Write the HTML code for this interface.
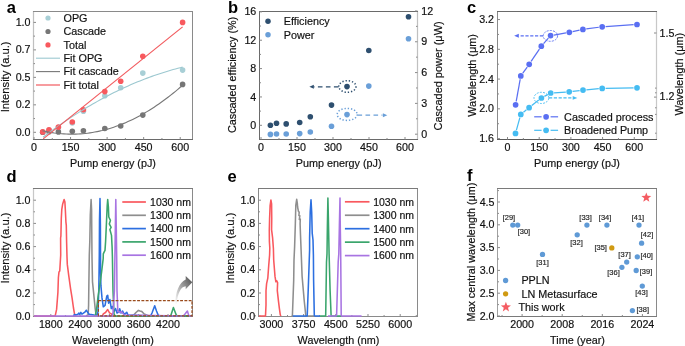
<!DOCTYPE html>
<html><head><meta charset="utf-8"><style>
html,body{margin:0;padding:0;background:#fff;width:685px;height:346px;overflow:hidden}
svg{display:block;filter:blur(0.3px)}
text{font-family:"Liberation Sans", sans-serif}
</style></head><body>
<svg width="685" height="346" viewBox="0 0 685 346">
<rect width="685" height="346" fill="#fff"/>
<line x1="33.5" y1="11" x2="33.5" y2="140" stroke="#c0c0c0" stroke-width="1.25" stroke-linecap="butt"/>
<line x1="192.5" y1="11" x2="192.5" y2="140" stroke="#8a8a8a" stroke-width="1" stroke-linecap="butt"/>
<line x1="33" y1="11.5" x2="193" y2="11.5" stroke="#8a8a8a" stroke-width="1" stroke-linecap="butt"/>
<line x1="33" y1="139.5" x2="193" y2="139.5" stroke="#6a6a6a" stroke-width="1" stroke-linecap="butt"/>
<line x1="34" y1="139.5" x2="34" y2="137" stroke="#8a8a8a" stroke-width="1" stroke-linecap="butt"/>
<line x1="70.56" y1="139.5" x2="70.56" y2="137" stroke="#8a8a8a" stroke-width="1" stroke-linecap="butt"/>
<line x1="107.11" y1="139.5" x2="107.11" y2="137" stroke="#8a8a8a" stroke-width="1" stroke-linecap="butt"/>
<line x1="143.67" y1="139.5" x2="143.67" y2="137" stroke="#8a8a8a" stroke-width="1" stroke-linecap="butt"/>
<line x1="180.22" y1="139.5" x2="180.22" y2="137" stroke="#8a8a8a" stroke-width="1" stroke-linecap="butt"/>
<line x1="52.28" y1="139.5" x2="52.28" y2="138" stroke="#8a8a8a" stroke-width="1" stroke-linecap="butt"/>
<line x1="88.83" y1="139.5" x2="88.83" y2="138" stroke="#8a8a8a" stroke-width="1" stroke-linecap="butt"/>
<line x1="125.39" y1="139.5" x2="125.39" y2="138" stroke="#8a8a8a" stroke-width="1" stroke-linecap="butt"/>
<line x1="161.94" y1="139.5" x2="161.94" y2="138" stroke="#8a8a8a" stroke-width="1" stroke-linecap="butt"/>
<line x1="33.5" y1="132.3" x2="36" y2="132.3" stroke="#8a8a8a" stroke-width="1" stroke-linecap="butt"/>
<line x1="33.5" y1="104.83" x2="36" y2="104.83" stroke="#8a8a8a" stroke-width="1" stroke-linecap="butt"/>
<line x1="33.5" y1="77.35" x2="36" y2="77.35" stroke="#8a8a8a" stroke-width="1" stroke-linecap="butt"/>
<line x1="33.5" y1="49.88" x2="36" y2="49.88" stroke="#8a8a8a" stroke-width="1" stroke-linecap="butt"/>
<line x1="33.5" y1="22.4" x2="36" y2="22.4" stroke="#8a8a8a" stroke-width="1" stroke-linecap="butt"/>
<line x1="33.5" y1="118.56" x2="35" y2="118.56" stroke="#8a8a8a" stroke-width="1" stroke-linecap="butt"/>
<line x1="33.5" y1="91.09" x2="35" y2="91.09" stroke="#8a8a8a" stroke-width="1" stroke-linecap="butt"/>
<line x1="33.5" y1="63.61" x2="35" y2="63.61" stroke="#8a8a8a" stroke-width="1" stroke-linecap="butt"/>
<line x1="33.5" y1="36.14" x2="35" y2="36.14" stroke="#8a8a8a" stroke-width="1" stroke-linecap="butt"/>
<text x="34" y="151" font-size="10.7" text-anchor="middle" fill="#111111" font-weight="normal" stroke="#111111" stroke-width="0.18">0</text>
<text x="70.56" y="151" font-size="10.7" text-anchor="middle" fill="#111111" font-weight="normal" stroke="#111111" stroke-width="0.18">150</text>
<text x="107.11" y="151" font-size="10.7" text-anchor="middle" fill="#111111" font-weight="normal" stroke="#111111" stroke-width="0.18">300</text>
<text x="143.67" y="151" font-size="10.7" text-anchor="middle" fill="#111111" font-weight="normal" stroke="#111111" stroke-width="0.18">450</text>
<text x="180.22" y="151" font-size="10.7" text-anchor="middle" fill="#111111" font-weight="normal" stroke="#111111" stroke-width="0.18">600</text>
<text x="30.5" y="135.9" font-size="10.7" text-anchor="end" fill="#111111" font-weight="normal" stroke="#111111" stroke-width="0.18">0.0</text>
<text x="30.5" y="108.43" font-size="10.7" text-anchor="end" fill="#111111" font-weight="normal" stroke="#111111" stroke-width="0.18">0.2</text>
<text x="30.5" y="80.95" font-size="10.7" text-anchor="end" fill="#111111" font-weight="normal" stroke="#111111" stroke-width="0.18">0.5</text>
<text x="30.5" y="53.48" font-size="10.7" text-anchor="end" fill="#111111" font-weight="normal" stroke="#111111" stroke-width="0.18">0.7</text>
<text x="30.5" y="26" font-size="10.7" text-anchor="end" fill="#111111" font-weight="normal" stroke="#111111" stroke-width="0.18">1.0</text>
<text x="113" y="167" font-size="10.8" text-anchor="middle" fill="#111111" font-weight="normal" stroke="#111111" stroke-width="0.18">Pump energy (pJ)</text>
<text x="9" y="76.9" font-size="11.2" text-anchor="middle" fill="#111111" font-weight="normal" stroke="#111111" stroke-width="0.18" transform="rotate(-90 9 76.9)">Intensity (a.u.)</text>
<text x="6.7" y="12.5" font-size="16.5" text-anchor="start" fill="#000" font-weight="bold">a</text>
<circle cx="42.7" cy="132.3" r="2.8" fill="#a8cfd6"/>
<circle cx="49" cy="130.3" r="2.8" fill="#a8cfd6"/>
<circle cx="58.4" cy="127.6" r="2.8" fill="#a8cfd6"/>
<circle cx="72.3" cy="123" r="2.8" fill="#a8cfd6"/>
<circle cx="83.4" cy="111.3" r="2.8" fill="#a8cfd6"/>
<circle cx="104.8" cy="95.8" r="2.8" fill="#a8cfd6"/>
<circle cx="120.7" cy="87.7" r="2.8" fill="#a8cfd6"/>
<circle cx="142.8" cy="73.1" r="2.8" fill="#a8cfd6"/>
<circle cx="182.6" cy="70.1" r="2.8" fill="#a8cfd6"/>
<circle cx="42.7" cy="132.3" r="2.8" fill="#767676"/>
<circle cx="49" cy="131.8" r="2.8" fill="#767676"/>
<circle cx="58.4" cy="131.9" r="2.8" fill="#767676"/>
<circle cx="72.3" cy="131.2" r="2.8" fill="#767676"/>
<circle cx="83.4" cy="130.8" r="2.8" fill="#767676"/>
<circle cx="104.8" cy="128.5" r="2.8" fill="#767676"/>
<circle cx="120.7" cy="126" r="2.8" fill="#767676"/>
<circle cx="142.8" cy="115.1" r="2.8" fill="#767676"/>
<circle cx="182.6" cy="84.4" r="2.8" fill="#767676"/>
<circle cx="42.7" cy="131.9" r="2.8" fill="#f8595e"/>
<circle cx="49" cy="129.8" r="2.8" fill="#f8595e"/>
<circle cx="58.4" cy="127.1" r="2.8" fill="#f8595e"/>
<circle cx="72.3" cy="122" r="2.8" fill="#f8595e"/>
<circle cx="83.4" cy="109.7" r="2.8" fill="#f8595e"/>
<circle cx="104.8" cy="91.6" r="2.8" fill="#f8595e"/>
<circle cx="120.7" cy="81.3" r="2.8" fill="#f8595e"/>
<circle cx="142.8" cy="56.2" r="2.8" fill="#f8595e"/>
<circle cx="182.6" cy="22.4" r="2.8" fill="#f8595e"/>
<polyline points="43,137.24 45.37,135.46 47.73,133.69 50.1,131.94 52.46,130.22 54.83,128.51 57.2,126.83 59.56,125.17 61.93,123.52 64.29,121.9 66.66,120.3 69.03,118.72 71.39,117.16 73.76,115.62 76.13,114.1 78.49,112.6 80.86,111.13 83.22,109.67 85.59,108.23 87.96,106.82 90.32,105.42 92.69,104.05 95.05,102.69 97.42,101.36 99.79,100.05 102.15,98.75 104.52,97.48 106.88,96.23 109.25,95 111.62,93.79 113.98,92.6 116.35,91.44 118.72,90.29 121.08,89.16 123.45,88.06 125.81,86.97 128.18,85.91 130.55,84.86 132.91,83.84 135.28,82.83 137.64,81.85 140.01,80.89 142.38,79.95 144.74,79.03 147.11,78.13 149.47,77.25 151.84,76.39 154.21,75.55 156.57,74.74 158.94,73.94 161.31,73.16 163.67,72.41 166.04,71.67 168.4,70.96 170.77,70.26 173.14,69.59 175.5,68.94 177.87,68.31 180.23,67.7 182.6,67.11" fill="none" stroke="#9cc8d0" stroke-width="1.1" stroke-linejoin="round"/>
<polyline points="42.5,130.74 44.87,131.27 47.25,131.76 49.62,132.2 52,132.6 54.37,132.96 56.75,133.26 59.12,133.53 61.5,133.75 63.87,133.92 66.25,134.05 68.62,134.13 70.99,134.17 73.37,134.16 75.74,134.11 78.12,134.02 80.49,133.87 82.87,133.69 85.24,133.46 87.62,133.18 89.99,132.86 92.37,132.49 94.74,132.08 97.12,131.62 99.49,131.12 101.86,130.58 104.24,129.98 106.61,129.35 108.99,128.67 111.36,127.94 113.74,127.17 116.11,126.35 118.49,125.49 120.86,124.58 123.24,123.63 125.61,122.64 127.98,121.59 130.36,120.51 132.73,119.38 135.11,118.2 137.48,116.98 139.86,115.71 142.23,114.4 144.61,113.04 146.98,111.64 149.36,110.19 151.73,108.7 154.11,107.17 156.48,105.58 158.85,103.96 161.23,102.29 163.6,100.57 165.98,98.81 168.35,97 170.73,95.15 173.1,93.25 175.48,91.31 177.85,89.32 180.23,87.29 182.6,85.21" fill="none" stroke="#777777" stroke-width="1.1" stroke-linejoin="round"/>
<line x1="43.2" y1="138.9" x2="182.6" y2="26.9" stroke="#f25a5e" stroke-width="1.2" stroke-linecap="butt"/>
<circle cx="48" cy="18" r="2.6" fill="#a8cfd6"/>
<text x="63.5" y="21.8" font-size="10.8" text-anchor="start" fill="#111111" font-weight="normal" stroke="#111111" stroke-width="0.18">OPG</text>
<circle cx="48" cy="31.5" r="2.6" fill="#767676"/>
<text x="63.5" y="35.2" font-size="10.8" text-anchor="start" fill="#111111" font-weight="normal" stroke="#111111" stroke-width="0.18">Cascade</text>
<circle cx="48" cy="44.9" r="2.6" fill="#f8595e"/>
<text x="63.5" y="48.6" font-size="10.8" text-anchor="start" fill="#111111" font-weight="normal" stroke="#111111" stroke-width="0.18">Total</text>
<line x1="36" y1="58.2" x2="60" y2="58.2" stroke="#9cc8d0" stroke-width="1.1" stroke-linecap="butt"/>
<text x="63.5" y="61.9" font-size="10.8" text-anchor="start" fill="#111111" font-weight="normal" stroke="#111111" stroke-width="0.18">Fit OPG</text>
<line x1="36" y1="71.6" x2="60" y2="71.6" stroke="#777777" stroke-width="1.1" stroke-linecap="butt"/>
<text x="63.5" y="75.3" font-size="10.8" text-anchor="start" fill="#111111" font-weight="normal" stroke="#111111" stroke-width="0.18">Fit cascade</text>
<line x1="36" y1="85" x2="60" y2="85" stroke="#f25a5e" stroke-width="1.2" stroke-linecap="butt"/>
<text x="63.5" y="88.7" font-size="10.8" text-anchor="start" fill="#111111" font-weight="normal" stroke="#111111" stroke-width="0.18">Fit total</text>
<line x1="259.5" y1="11" x2="259.5" y2="140" stroke="#6a6a6a" stroke-width="1" stroke-linecap="butt"/>
<line x1="417.5" y1="11" x2="417.5" y2="140" stroke="#c0c0c0" stroke-width="1.25" stroke-linecap="butt"/>
<line x1="259" y1="11.5" x2="418" y2="11.5" stroke="#6a6a6a" stroke-width="1" stroke-linecap="butt"/>
<line x1="259" y1="139.5" x2="418" y2="139.5" stroke="#6a6a6a" stroke-width="1" stroke-linecap="butt"/>
<line x1="261" y1="139.5" x2="261" y2="137" stroke="#8a8a8a" stroke-width="1" stroke-linecap="butt"/>
<line x1="297" y1="139.5" x2="297" y2="137" stroke="#8a8a8a" stroke-width="1" stroke-linecap="butt"/>
<line x1="333" y1="139.5" x2="333" y2="137" stroke="#8a8a8a" stroke-width="1" stroke-linecap="butt"/>
<line x1="369" y1="139.5" x2="369" y2="137" stroke="#8a8a8a" stroke-width="1" stroke-linecap="butt"/>
<line x1="405" y1="139.5" x2="405" y2="137" stroke="#8a8a8a" stroke-width="1" stroke-linecap="butt"/>
<line x1="279" y1="139.5" x2="279" y2="138" stroke="#8a8a8a" stroke-width="1" stroke-linecap="butt"/>
<line x1="315" y1="139.5" x2="315" y2="138" stroke="#8a8a8a" stroke-width="1" stroke-linecap="butt"/>
<line x1="351" y1="139.5" x2="351" y2="138" stroke="#8a8a8a" stroke-width="1" stroke-linecap="butt"/>
<line x1="387" y1="139.5" x2="387" y2="138" stroke="#8a8a8a" stroke-width="1" stroke-linecap="butt"/>
<line x1="259.5" y1="125.3" x2="262" y2="125.3" stroke="#8a8a8a" stroke-width="1" stroke-linecap="butt"/>
<line x1="259.5" y1="96.94" x2="262" y2="96.94" stroke="#8a8a8a" stroke-width="1" stroke-linecap="butt"/>
<line x1="259.5" y1="68.58" x2="262" y2="68.58" stroke="#8a8a8a" stroke-width="1" stroke-linecap="butt"/>
<line x1="259.5" y1="40.22" x2="262" y2="40.22" stroke="#8a8a8a" stroke-width="1" stroke-linecap="butt"/>
<line x1="259.5" y1="11.86" x2="262" y2="11.86" stroke="#8a8a8a" stroke-width="1" stroke-linecap="butt"/>
<line x1="259.5" y1="111.12" x2="261" y2="111.12" stroke="#8a8a8a" stroke-width="1" stroke-linecap="butt"/>
<line x1="259.5" y1="82.76" x2="261" y2="82.76" stroke="#8a8a8a" stroke-width="1" stroke-linecap="butt"/>
<line x1="259.5" y1="54.4" x2="261" y2="54.4" stroke="#8a8a8a" stroke-width="1" stroke-linecap="butt"/>
<line x1="259.5" y1="26.04" x2="261" y2="26.04" stroke="#8a8a8a" stroke-width="1" stroke-linecap="butt"/>
<line x1="417.5" y1="134.2" x2="415" y2="134.2" stroke="#8a8a8a" stroke-width="1" stroke-linecap="butt"/>
<line x1="417.5" y1="103.39" x2="415" y2="103.39" stroke="#8a8a8a" stroke-width="1" stroke-linecap="butt"/>
<line x1="417.5" y1="72.58" x2="415" y2="72.58" stroke="#8a8a8a" stroke-width="1" stroke-linecap="butt"/>
<line x1="417.5" y1="41.77" x2="415" y2="41.77" stroke="#8a8a8a" stroke-width="1" stroke-linecap="butt"/>
<line x1="417.5" y1="10.96" x2="415" y2="10.96" stroke="#8a8a8a" stroke-width="1" stroke-linecap="butt"/>
<line x1="417.5" y1="118.79" x2="416" y2="118.79" stroke="#8a8a8a" stroke-width="1" stroke-linecap="butt"/>
<line x1="417.5" y1="87.98" x2="416" y2="87.98" stroke="#8a8a8a" stroke-width="1" stroke-linecap="butt"/>
<line x1="417.5" y1="57.17" x2="416" y2="57.17" stroke="#8a8a8a" stroke-width="1" stroke-linecap="butt"/>
<line x1="417.5" y1="26.36" x2="416" y2="26.36" stroke="#8a8a8a" stroke-width="1" stroke-linecap="butt"/>
<text x="261" y="151" font-size="10.7" text-anchor="middle" fill="#111111" font-weight="normal" stroke="#111111" stroke-width="0.18">0</text>
<text x="297" y="151" font-size="10.7" text-anchor="middle" fill="#111111" font-weight="normal" stroke="#111111" stroke-width="0.18">150</text>
<text x="333" y="151" font-size="10.7" text-anchor="middle" fill="#111111" font-weight="normal" stroke="#111111" stroke-width="0.18">300</text>
<text x="369" y="151" font-size="10.7" text-anchor="middle" fill="#111111" font-weight="normal" stroke="#111111" stroke-width="0.18">450</text>
<text x="405" y="151" font-size="10.7" text-anchor="middle" fill="#111111" font-weight="normal" stroke="#111111" stroke-width="0.18">600</text>
<text x="256.3" y="128.9" font-size="10.7" text-anchor="end" fill="#111111" font-weight="normal" stroke="#111111" stroke-width="0.18">0</text>
<text x="256.3" y="100.54" font-size="10.7" text-anchor="end" fill="#111111" font-weight="normal" stroke="#111111" stroke-width="0.18">4</text>
<text x="256.3" y="72.18" font-size="10.7" text-anchor="end" fill="#111111" font-weight="normal" stroke="#111111" stroke-width="0.18">8</text>
<text x="256.3" y="43.82" font-size="10.7" text-anchor="end" fill="#111111" font-weight="normal" stroke="#111111" stroke-width="0.18">12</text>
<text x="256.3" y="15.46" font-size="10.7" text-anchor="end" fill="#111111" font-weight="normal" stroke="#111111" stroke-width="0.18">16</text>
<text x="421.2" y="137.8" font-size="10.7" text-anchor="start" fill="#111111" font-weight="normal" stroke="#111111" stroke-width="0.18">0</text>
<text x="421.2" y="106.99" font-size="10.7" text-anchor="start" fill="#111111" font-weight="normal" stroke="#111111" stroke-width="0.18">3</text>
<text x="421.2" y="76.18" font-size="10.7" text-anchor="start" fill="#111111" font-weight="normal" stroke="#111111" stroke-width="0.18">6</text>
<text x="421.2" y="45.37" font-size="10.7" text-anchor="start" fill="#111111" font-weight="normal" stroke="#111111" stroke-width="0.18">9</text>
<text x="421.2" y="14.56" font-size="10.7" text-anchor="start" fill="#111111" font-weight="normal" stroke="#111111" stroke-width="0.18">12</text>
<text x="338.7" y="167" font-size="10.8" text-anchor="middle" fill="#111111" font-weight="normal" stroke="#111111" stroke-width="0.18">Pump energy (pJ)</text>
<text x="235.8" y="74.9" font-size="10.8" text-anchor="middle" fill="#111111" font-weight="normal" stroke="#111111" stroke-width="0.18" transform="rotate(-90 235.8 74.9)">Cascaded efficiency (%)</text>
<text x="442.5" y="75.9" font-size="10.95" text-anchor="middle" fill="#111111" font-weight="normal" stroke="#111111" stroke-width="0.18" transform="rotate(-90 442.5 75.9)">Cascaded power (μW)</text>
<text x="227.9" y="12.6" font-size="16.5" text-anchor="start" fill="#000" font-weight="bold">b</text>
<circle cx="270.4" cy="125.3" r="2.8" fill="#2e4f6f"/>
<circle cx="276.5" cy="123.3" r="2.8" fill="#2e4f6f"/>
<circle cx="286.2" cy="123.9" r="2.8" fill="#2e4f6f"/>
<circle cx="299.7" cy="122.5" r="2.8" fill="#2e4f6f"/>
<circle cx="310.3" cy="116.8" r="2.8" fill="#2e4f6f"/>
<circle cx="331.5" cy="105.1" r="2.8" fill="#2e4f6f"/>
<circle cx="347" cy="86.6" r="2.8" fill="#2e4f6f"/>
<circle cx="368.8" cy="50.5" r="2.8" fill="#2e4f6f"/>
<circle cx="408.5" cy="16.7" r="2.8" fill="#2e4f6f"/>
<circle cx="270.4" cy="134.4" r="2.8" fill="#6a9fd8"/>
<circle cx="276.5" cy="134" r="2.8" fill="#6a9fd8"/>
<circle cx="286.2" cy="134" r="2.8" fill="#6a9fd8"/>
<circle cx="299.7" cy="133.6" r="2.8" fill="#6a9fd8"/>
<circle cx="310.3" cy="132" r="2.8" fill="#6a9fd8"/>
<circle cx="331.5" cy="126.2" r="2.8" fill="#6a9fd8"/>
<circle cx="347" cy="114.6" r="2.8" fill="#6a9fd8"/>
<circle cx="368.8" cy="86.1" r="2.8" fill="#6a9fd8"/>
<circle cx="408.5" cy="38.7" r="2.8" fill="#6a9fd8"/>
<circle cx="268" cy="21.2" r="2.75" fill="#2e4f6f"/>
<text x="283.7" y="25" font-size="10.8" text-anchor="start" fill="#111111" font-weight="normal" stroke="#111111" stroke-width="0.18">Efficiency</text>
<circle cx="268" cy="34.7" r="2.75" fill="#6a9fd8"/>
<text x="283.7" y="38.5" font-size="10.8" text-anchor="start" fill="#111111" font-weight="normal" stroke="#111111" stroke-width="0.18">Power</text>
<ellipse cx="347.4" cy="86.5" rx="8.6" ry="5.8" fill="none" stroke="#2e4f6f" stroke-width="1.5" stroke-dasharray="1.3 1.9"/>
<line x1="338.5" y1="86.8" x2="313.5" y2="86.8" stroke="#2e4f6f" stroke-width="1.3" stroke-linecap="butt" stroke-dasharray="4.6 3.4"/>
<polygon points="309.4,86.8 313.8,84.8 313.8,88.8" fill="#2e4f6f"/>
<ellipse cx="347.2" cy="114.4" rx="10" ry="6" fill="none" stroke="#6a9fd8" stroke-width="1.5" stroke-dasharray="1.3 1.9"/>
<line x1="357.5" y1="115.2" x2="382.5" y2="115.2" stroke="#6a9fd8" stroke-width="1.3" stroke-linecap="butt" stroke-dasharray="4.6 3.4"/>
<polygon points="387.3,115.2 382.9,113.2 382.9,117.2" fill="#6a9fd8"/>
<line x1="497.5" y1="11" x2="497.5" y2="140" stroke="#8a8a8a" stroke-width="1" stroke-linecap="butt"/>
<line x1="656.5" y1="11" x2="656.5" y2="140" stroke="#c8c8c8" stroke-width="1.25" stroke-linecap="butt"/>
<line x1="497" y1="11.5" x2="657" y2="11.5" stroke="#6a6a6a" stroke-width="1" stroke-linecap="butt"/>
<line x1="497" y1="139.5" x2="657" y2="139.5" stroke="#5a5a5a" stroke-width="1" stroke-linecap="butt"/>
<line x1="507.5" y1="139.5" x2="507.5" y2="137" stroke="#8a8a8a" stroke-width="1" stroke-linecap="butt"/>
<line x1="539.2" y1="139.5" x2="539.2" y2="137" stroke="#8a8a8a" stroke-width="1" stroke-linecap="butt"/>
<line x1="570.89" y1="139.5" x2="570.89" y2="137" stroke="#8a8a8a" stroke-width="1" stroke-linecap="butt"/>
<line x1="602.59" y1="139.5" x2="602.59" y2="137" stroke="#8a8a8a" stroke-width="1" stroke-linecap="butt"/>
<line x1="634.28" y1="139.5" x2="634.28" y2="137" stroke="#8a8a8a" stroke-width="1" stroke-linecap="butt"/>
<line x1="523.35" y1="139.5" x2="523.35" y2="138" stroke="#8a8a8a" stroke-width="1" stroke-linecap="butt"/>
<line x1="555.04" y1="139.5" x2="555.04" y2="138" stroke="#8a8a8a" stroke-width="1" stroke-linecap="butt"/>
<line x1="586.74" y1="139.5" x2="586.74" y2="138" stroke="#8a8a8a" stroke-width="1" stroke-linecap="butt"/>
<line x1="618.43" y1="139.5" x2="618.43" y2="138" stroke="#8a8a8a" stroke-width="1" stroke-linecap="butt"/>
<line x1="497.5" y1="138.6" x2="500" y2="138.6" stroke="#8a8a8a" stroke-width="1" stroke-linecap="butt"/>
<line x1="497.5" y1="108.84" x2="500" y2="108.84" stroke="#8a8a8a" stroke-width="1" stroke-linecap="butt"/>
<line x1="497.5" y1="79.08" x2="500" y2="79.08" stroke="#8a8a8a" stroke-width="1" stroke-linecap="butt"/>
<line x1="497.5" y1="49.32" x2="500" y2="49.32" stroke="#8a8a8a" stroke-width="1" stroke-linecap="butt"/>
<line x1="497.5" y1="19.56" x2="500" y2="19.56" stroke="#8a8a8a" stroke-width="1" stroke-linecap="butt"/>
<line x1="497.5" y1="123.72" x2="499" y2="123.72" stroke="#8a8a8a" stroke-width="1" stroke-linecap="butt"/>
<line x1="497.5" y1="93.96" x2="499" y2="93.96" stroke="#8a8a8a" stroke-width="1" stroke-linecap="butt"/>
<line x1="497.5" y1="64.2" x2="499" y2="64.2" stroke="#8a8a8a" stroke-width="1" stroke-linecap="butt"/>
<line x1="497.5" y1="34.44" x2="499" y2="34.44" stroke="#8a8a8a" stroke-width="1" stroke-linecap="butt"/>
<line x1="656.5" y1="33" x2="654" y2="33" stroke="#8a8a8a" stroke-width="1" stroke-linecap="butt"/>
<line x1="656.5" y1="97.1" x2="654" y2="97.1" stroke="#8a8a8a" stroke-width="1" stroke-linecap="butt"/>
<line x1="656.5" y1="88.1" x2="655" y2="88.1" stroke="#8a8a8a" stroke-width="1" stroke-linecap="butt"/>
<line x1="656.5" y1="92.8" x2="655" y2="92.8" stroke="#8a8a8a" stroke-width="1" stroke-linecap="butt"/>
<line x1="656.5" y1="107.8" x2="655" y2="107.8" stroke="#8a8a8a" stroke-width="1" stroke-linecap="butt"/>
<line x1="656.5" y1="114.4" x2="655" y2="114.4" stroke="#8a8a8a" stroke-width="1" stroke-linecap="butt"/>
<line x1="656.5" y1="133.2" x2="655" y2="133.2" stroke="#8a8a8a" stroke-width="1" stroke-linecap="butt"/>
<text x="507.5" y="151" font-size="10.7" text-anchor="middle" fill="#111111" font-weight="normal" stroke="#111111" stroke-width="0.18">0</text>
<text x="539.2" y="151" font-size="10.7" text-anchor="middle" fill="#111111" font-weight="normal" stroke="#111111" stroke-width="0.18">150</text>
<text x="570.89" y="151" font-size="10.7" text-anchor="middle" fill="#111111" font-weight="normal" stroke="#111111" stroke-width="0.18">300</text>
<text x="602.59" y="151" font-size="10.7" text-anchor="middle" fill="#111111" font-weight="normal" stroke="#111111" stroke-width="0.18">450</text>
<text x="634.28" y="151" font-size="10.7" text-anchor="middle" fill="#111111" font-weight="normal" stroke="#111111" stroke-width="0.18">600</text>
<text x="494" y="142.2" font-size="10.7" text-anchor="end" fill="#111111" font-weight="normal" stroke="#111111" stroke-width="0.18">1.6</text>
<text x="494" y="112.44" font-size="10.7" text-anchor="end" fill="#111111" font-weight="normal" stroke="#111111" stroke-width="0.18">2.0</text>
<text x="494" y="82.68" font-size="10.7" text-anchor="end" fill="#111111" font-weight="normal" stroke="#111111" stroke-width="0.18">2.4</text>
<text x="494" y="52.92" font-size="10.7" text-anchor="end" fill="#111111" font-weight="normal" stroke="#111111" stroke-width="0.18">2.8</text>
<text x="494" y="23.16" font-size="10.7" text-anchor="end" fill="#111111" font-weight="normal" stroke="#111111" stroke-width="0.18">3.2</text>
<text x="659.5" y="100.4" font-size="10.7" text-anchor="start" fill="#111111" font-weight="normal" stroke="#111111" stroke-width="0.18">1.2</text>
<text x="659.5" y="36.8" font-size="10.7" text-anchor="start" fill="#111111" font-weight="normal" stroke="#111111" stroke-width="0.18">1.5</text>
<text x="577" y="167" font-size="10.8" text-anchor="middle" fill="#111111" font-weight="normal" stroke="#111111" stroke-width="0.18">Pump energy (pJ)</text>
<text x="476" y="75.4" font-size="10.9" text-anchor="middle" fill="#111111" font-weight="normal" stroke="#111111" stroke-width="0.18" transform="rotate(-90 476 75.4)">Wavelength (μm)</text>
<text x="683.1" y="74.2" font-size="10.9" text-anchor="middle" fill="#111111" font-weight="normal" stroke="#111111" stroke-width="0.18" transform="rotate(-90 683.1 74.2)">Wavelength (μm)</text>
<text x="466.9" y="12.5" font-size="16.5" text-anchor="start" fill="#000" font-weight="bold">c</text>
<line x1="516.2" y1="101.45" x2="520.2" y2="79.25" stroke="#5a6ff2" stroke-width="1.25" stroke-linecap="butt"/>
<line x1="522.79" y1="73.15" x2="527.21" y2="67.05" stroke="#5a6ff2" stroke-width="1.25" stroke-linecap="butt"/>
<line x1="531.09" y1="61.47" x2="539.41" y2="49.03" stroke="#5a6ff2" stroke-width="1.25" stroke-linecap="butt"/>
<line x1="543.54" y1="43.64" x2="548.36" y2="38.16" stroke="#5a6ff2" stroke-width="1.25" stroke-linecap="butt"/>
<line x1="553.95" y1="35.01" x2="565.95" y2="32.89" stroke="#5a6ff2" stroke-width="1.25" stroke-linecap="butt"/>
<line x1="572.63" y1="31.59" x2="579.57" y2="30.11" stroke="#5a6ff2" stroke-width="1.25" stroke-linecap="butt"/>
<line x1="586.27" y1="28.95" x2="598.83" y2="27.25" stroke="#5a6ff2" stroke-width="1.25" stroke-linecap="butt"/>
<line x1="605.59" y1="26.58" x2="633.61" y2="24.72" stroke="#5a6ff2" stroke-width="1.25" stroke-linecap="butt"/>
<line x1="516.41" y1="130.13" x2="519.89" y2="117.67" stroke="#45bcf2" stroke-width="1.25" stroke-linecap="butt"/>
<line x1="523.45" y1="112.26" x2="526.45" y2="109.84" stroke="#45bcf2" stroke-width="1.25" stroke-linecap="butt"/>
<line x1="531.77" y1="105.59" x2="538.73" y2="100.11" stroke="#45bcf2" stroke-width="1.25" stroke-linecap="butt"/>
<line x1="544.39" y1="96.39" x2="547.71" y2="94.61" stroke="#45bcf2" stroke-width="1.25" stroke-linecap="butt"/>
<line x1="554.09" y1="92.78" x2="565.81" y2="92.02" stroke="#45bcf2" stroke-width="1.25" stroke-linecap="butt"/>
<line x1="572.57" y1="91.38" x2="579.63" y2="90.52" stroke="#45bcf2" stroke-width="1.25" stroke-linecap="butt"/>
<line x1="586.39" y1="89.8" x2="598.81" y2="88.7" stroke="#45bcf2" stroke-width="1.25" stroke-linecap="butt"/>
<line x1="605.6" y1="88.34" x2="633.6" y2="87.86" stroke="#45bcf2" stroke-width="1.25" stroke-linecap="butt"/>
<circle cx="515.6" cy="104.8" r="2.85" fill="#5a6ff2"/>
<circle cx="520.8" cy="75.9" r="2.85" fill="#5a6ff2"/>
<circle cx="529.2" cy="64.3" r="2.85" fill="#5a6ff2"/>
<circle cx="541.3" cy="46.2" r="2.85" fill="#5a6ff2"/>
<circle cx="550.6" cy="35.6" r="2.85" fill="#5a6ff2"/>
<circle cx="569.3" cy="32.3" r="2.85" fill="#5a6ff2"/>
<circle cx="582.9" cy="29.4" r="2.85" fill="#5a6ff2"/>
<circle cx="602.2" cy="26.8" r="2.85" fill="#5a6ff2"/>
<circle cx="637" cy="24.5" r="2.85" fill="#5a6ff2"/>
<circle cx="515.5" cy="133.4" r="2.85" fill="#45bcf2"/>
<circle cx="520.8" cy="114.4" r="2.85" fill="#45bcf2"/>
<circle cx="529.1" cy="107.7" r="2.85" fill="#45bcf2"/>
<circle cx="541.4" cy="98" r="2.85" fill="#45bcf2"/>
<circle cx="550.7" cy="93" r="2.85" fill="#45bcf2"/>
<circle cx="569.2" cy="91.8" r="2.85" fill="#45bcf2"/>
<circle cx="583" cy="90.1" r="2.85" fill="#45bcf2"/>
<circle cx="602.2" cy="88.4" r="2.85" fill="#45bcf2"/>
<circle cx="637" cy="87.8" r="2.85" fill="#45bcf2"/>
<ellipse cx="550.4" cy="35.9" rx="7.2" ry="5.4" fill="none" stroke="#5a6ff2" stroke-width="0.9" stroke-dasharray="2 1.2"/>
<line x1="543" y1="35.8" x2="519" y2="35.8" stroke="#5a6ff2" stroke-width="1.3" stroke-linecap="butt" stroke-dasharray="3.2 1.6"/>
<polygon points="514.2,35.8 518.8,33.8 518.8,37.8" fill="#5a6ff2"/>
<ellipse cx="541.4" cy="97.9" rx="7.4" ry="5.6" fill="none" stroke="#45bcf2" stroke-width="0.9" stroke-dasharray="2 1.2"/>
<line x1="549" y1="97.9" x2="573" y2="97.9" stroke="#45bcf2" stroke-width="1.3" stroke-linecap="butt" stroke-dasharray="3.2 1.6"/>
<polygon points="577.3,97.9 572.7,96.1 572.7,99.7" fill="#45bcf2"/>
<line x1="534.2" y1="116.8" x2="541.6" y2="116.8" stroke="#5a6ff2" stroke-width="1.2" stroke-linecap="butt"/>
<line x1="550.6" y1="116.8" x2="558.1" y2="116.8" stroke="#5a6ff2" stroke-width="1.2" stroke-linecap="butt"/>
<circle cx="546.1" cy="116.8" r="2.85" fill="#5a6ff2"/>
<text x="564.1" y="120.5" font-size="10.8" text-anchor="start" fill="#111111" font-weight="normal" stroke="#111111" stroke-width="0.18">Cascaded process</text>
<line x1="534.2" y1="130.3" x2="541.6" y2="130.3" stroke="#45bcf2" stroke-width="1.2" stroke-linecap="butt"/>
<line x1="550.6" y1="130.3" x2="558.1" y2="130.3" stroke="#45bcf2" stroke-width="1.2" stroke-linecap="butt"/>
<circle cx="546.1" cy="130.3" r="2.85" fill="#45bcf2"/>
<text x="564.1" y="134" font-size="10.8" text-anchor="start" fill="#111111" font-weight="normal" stroke="#111111" stroke-width="0.18">Broadened Pump</text>
<line x1="33.5" y1="188" x2="33.5" y2="317" stroke="#c8c8c8" stroke-width="1.25" stroke-linecap="butt"/>
<line x1="192.5" y1="188" x2="192.5" y2="317" stroke="#8a8a8a" stroke-width="1" stroke-linecap="butt"/>
<line x1="33" y1="188.5" x2="193" y2="188.5" stroke="#7a7a7a" stroke-width="1" stroke-linecap="butt"/>
<line x1="33" y1="316.5" x2="193" y2="316.5" stroke="#8a8a8a" stroke-width="1" stroke-linecap="butt"/>
<line x1="50.8" y1="316.5" x2="50.8" y2="314" stroke="#8a8a8a" stroke-width="1" stroke-linecap="butt"/>
<line x1="80.1" y1="316.5" x2="80.1" y2="314" stroke="#8a8a8a" stroke-width="1" stroke-linecap="butt"/>
<line x1="109.4" y1="316.5" x2="109.4" y2="314" stroke="#8a8a8a" stroke-width="1" stroke-linecap="butt"/>
<line x1="138.7" y1="316.5" x2="138.7" y2="314" stroke="#8a8a8a" stroke-width="1" stroke-linecap="butt"/>
<line x1="168" y1="316.5" x2="168" y2="314" stroke="#8a8a8a" stroke-width="1" stroke-linecap="butt"/>
<line x1="36.16" y1="316.5" x2="36.16" y2="315" stroke="#8a8a8a" stroke-width="1" stroke-linecap="butt"/>
<line x1="65.45" y1="316.5" x2="65.45" y2="315" stroke="#8a8a8a" stroke-width="1" stroke-linecap="butt"/>
<line x1="94.75" y1="316.5" x2="94.75" y2="315" stroke="#8a8a8a" stroke-width="1" stroke-linecap="butt"/>
<line x1="124.05" y1="316.5" x2="124.05" y2="315" stroke="#8a8a8a" stroke-width="1" stroke-linecap="butt"/>
<line x1="153.35" y1="316.5" x2="153.35" y2="315" stroke="#8a8a8a" stroke-width="1" stroke-linecap="butt"/>
<line x1="182.65" y1="316.5" x2="182.65" y2="315" stroke="#8a8a8a" stroke-width="1" stroke-linecap="butt"/>
<line x1="33.5" y1="316.2" x2="36" y2="316.2" stroke="#8a8a8a" stroke-width="1" stroke-linecap="butt"/>
<line x1="33.5" y1="293" x2="36" y2="293" stroke="#8a8a8a" stroke-width="1" stroke-linecap="butt"/>
<line x1="33.5" y1="269.8" x2="36" y2="269.8" stroke="#8a8a8a" stroke-width="1" stroke-linecap="butt"/>
<line x1="33.5" y1="246.6" x2="36" y2="246.6" stroke="#8a8a8a" stroke-width="1" stroke-linecap="butt"/>
<line x1="33.5" y1="223.4" x2="36" y2="223.4" stroke="#8a8a8a" stroke-width="1" stroke-linecap="butt"/>
<line x1="33.5" y1="200.2" x2="36" y2="200.2" stroke="#8a8a8a" stroke-width="1" stroke-linecap="butt"/>
<line x1="33.5" y1="304.6" x2="35" y2="304.6" stroke="#8a8a8a" stroke-width="1" stroke-linecap="butt"/>
<line x1="33.5" y1="281.4" x2="35" y2="281.4" stroke="#8a8a8a" stroke-width="1" stroke-linecap="butt"/>
<line x1="33.5" y1="258.2" x2="35" y2="258.2" stroke="#8a8a8a" stroke-width="1" stroke-linecap="butt"/>
<line x1="33.5" y1="235" x2="35" y2="235" stroke="#8a8a8a" stroke-width="1" stroke-linecap="butt"/>
<line x1="33.5" y1="211.8" x2="35" y2="211.8" stroke="#8a8a8a" stroke-width="1" stroke-linecap="butt"/>
<text x="50.8" y="328" font-size="10.7" text-anchor="middle" fill="#111111" font-weight="normal" stroke="#111111" stroke-width="0.18">1800</text>
<text x="80.1" y="328" font-size="10.7" text-anchor="middle" fill="#111111" font-weight="normal" stroke="#111111" stroke-width="0.18">2400</text>
<text x="109.4" y="328" font-size="10.7" text-anchor="middle" fill="#111111" font-weight="normal" stroke="#111111" stroke-width="0.18">3000</text>
<text x="138.7" y="328" font-size="10.7" text-anchor="middle" fill="#111111" font-weight="normal" stroke="#111111" stroke-width="0.18">3600</text>
<text x="168" y="328" font-size="10.7" text-anchor="middle" fill="#111111" font-weight="normal" stroke="#111111" stroke-width="0.18">4200</text>
<text x="30.5" y="319.8" font-size="10.7" text-anchor="end" fill="#111111" font-weight="normal" stroke="#111111" stroke-width="0.18">0.0</text>
<text x="30.5" y="296.6" font-size="10.7" text-anchor="end" fill="#111111" font-weight="normal" stroke="#111111" stroke-width="0.18">0.2</text>
<text x="30.5" y="273.4" font-size="10.7" text-anchor="end" fill="#111111" font-weight="normal" stroke="#111111" stroke-width="0.18">0.4</text>
<text x="30.5" y="250.2" font-size="10.7" text-anchor="end" fill="#111111" font-weight="normal" stroke="#111111" stroke-width="0.18">0.6</text>
<text x="30.5" y="227" font-size="10.7" text-anchor="end" fill="#111111" font-weight="normal" stroke="#111111" stroke-width="0.18">0.8</text>
<text x="30.5" y="203.8" font-size="10.7" text-anchor="end" fill="#111111" font-weight="normal" stroke="#111111" stroke-width="0.18">1.0</text>
<text x="113" y="343.5" font-size="10.8" text-anchor="middle" fill="#111111" font-weight="normal" stroke="#111111" stroke-width="0.18">Wavelength (nm)</text>
<text x="9" y="248" font-size="11.2" text-anchor="middle" fill="#111111" font-weight="normal" stroke="#111111" stroke-width="0.18" transform="rotate(-90 9 248)">Intensity (a.u.)</text>
<text x="6.6" y="181.7" font-size="16.5" text-anchor="start" fill="#000" font-weight="bold">d</text>
<polyline points="34,315.9 54.7,315.9 55.3,315.4 56.6,309.4 57.9,292.5 58.4,277.5 59,271.9 59.75,271 60.7,255 60.6,238 60.9,236.1 61.3,218.2 61.8,209.3 62.7,203.9 64.1,199.5 64.9,202.1 65.4,211 65.9,221.8 66.3,225.4 66.6,241.4 67,256.8 67.3,264.4 68.75,275.6 70.6,288.8 72.1,298.1 73.4,307.5 74.75,315.4 76,315.9" fill="none" stroke="#f9585e" stroke-width="1.55" stroke-linejoin="round"/>
<polyline points="102.5,315.9 103.3,313.9 105.5,312.5 107.7,309.5 109.5,312.8 111.3,313.9 112.5,315.9" fill="none" stroke="#f9585e" stroke-width="1.55" stroke-linejoin="round"/>
<polyline points="86,315.9 88.2,314.8 88.6,305 88.9,281.8 89.3,255 89.8,241.4 90.3,215 91.1,199.5 91.6,210 92,256.8 92.1,262 92.5,281.8 93.4,290.7 94.3,299.6 95.2,308.6 96.1,314.8 97,315.9" fill="none" stroke="#8e8e8e" stroke-width="1.55" stroke-linejoin="round"/>
<polyline points="130,315.9 133.7,315.1 136,312.5 138.4,310.4 140,311 141.9,311.6 144.2,314 147.1,315.1 149,315.9" fill="none" stroke="#8e8e8e" stroke-width="1.55" stroke-linejoin="round"/>
<polyline points="73.4,315.9 74.5,314.5 76,315 78,314.2 78.7,313.1 79.6,314.2 80.8,312.4 81.9,314.2 83.4,313.1 84.8,312.2 86.3,310.2 87.7,312.4 89.2,314.2 91,314.5 93.9,315.1 95.3,315.2 97,315 98,312 98.8,290 99.3,255 99.5,220 100,198.6 100.4,225 100.6,272.9 100.9,285.4 102,297.9 103.3,306.8 105,305.5 106.8,296.1 107.7,295.2 108.6,303.2 109.9,299.6 111.3,308.6 112.5,306.5 114,311.5 115.5,308.5 117,313 118.5,312 119.7,308.7 121,313 122.6,311 124.5,314.5 126.7,312.2 128,315 150.6,315.9 152,313 154.7,305.8 156.5,311 158.2,315.1 160,315.9 192,315.9" fill="none" stroke="#2c6fe0" stroke-width="1.55" stroke-linejoin="round"/>
<polyline points="95.2,315.9 96.5,309.5 98,297 99.8,285 101.6,272 103.2,258.6 103.3,253.9 104.1,252.1 105,250.4 105.6,241.4 106.5,221.8 107.2,205.7 107.7,199.5 108.4,207 108.8,217 110.4,220.4 109.3,223.9 111.1,227.3 109.9,229.5 111.5,235.4 112.1,247 112.4,256.8 113,290.7 114,313.9 115,315.9 170,315.9 171,315.1 173.4,307.5 176.3,315.1 177.5,315.9 192,315.9" fill="none" stroke="#3aa56c" stroke-width="1.55" stroke-linejoin="round"/>
<polyline points="34,315.9 112.4,315.9 113.1,312 114.4,290.7 114.9,256.8 115.3,230 115.8,199.5 116.3,230 116.7,256.8 117,290.7 117.8,311 118.5,311.5 120,312.5 121.5,311.8 123,313.5 124.5,315 183.3,315.9 185,314 187.4,311 188.6,315.1 189.5,315.9 192,315.9" fill="none" stroke="#a874e2" stroke-width="1.55" stroke-linejoin="round"/>
<rect x="98.4" y="300.6" width="93.6" height="15.2" fill="none" stroke="#9a4b1c" stroke-width="1.2" stroke-dasharray="2.9 1.4"/>
<defs><linearGradient id="ga" x1="0" y1="1" x2="1" y2="0"><stop offset="0" stop-color="#ffffff"/><stop offset="0.55" stop-color="#9a9a9a"/><stop offset="1" stop-color="#4a4a4a"/></linearGradient></defs>
<path d="M175.2,304 C175.5,292 179,283 185.7,279.6 L185.7,276 L192.3,282.2 L185.7,289.2 L185.7,286.2 C181,286.5 177.5,293 176.6,304 Z" fill="url(#ga)"/>
<line x1="122.3" y1="202" x2="145.9" y2="202" stroke="#f9585e" stroke-width="1.7" stroke-linecap="butt"/>
<text x="150.1" y="205.8" font-size="10.5" text-anchor="start" fill="#111111" font-weight="normal" stroke="#111111" stroke-width="0.18">1030 nm</text>
<line x1="122.3" y1="215.3" x2="145.9" y2="215.3" stroke="#8e8e8e" stroke-width="1.7" stroke-linecap="butt"/>
<text x="150.1" y="219.1" font-size="10.5" text-anchor="start" fill="#111111" font-weight="normal" stroke="#111111" stroke-width="0.18">1300 nm</text>
<line x1="122.3" y1="228.6" x2="145.9" y2="228.6" stroke="#2c6fe0" stroke-width="1.7" stroke-linecap="butt"/>
<text x="150.1" y="232.4" font-size="10.5" text-anchor="start" fill="#111111" font-weight="normal" stroke="#111111" stroke-width="0.18">1400 nm</text>
<line x1="122.3" y1="241.9" x2="145.9" y2="241.9" stroke="#3aa56c" stroke-width="1.7" stroke-linecap="butt"/>
<text x="150.1" y="245.7" font-size="10.5" text-anchor="start" fill="#111111" font-weight="normal" stroke="#111111" stroke-width="0.18">1500 nm</text>
<line x1="122.3" y1="255.2" x2="145.9" y2="255.2" stroke="#a874e2" stroke-width="1.7" stroke-linecap="butt"/>
<text x="150.1" y="259" font-size="10.5" text-anchor="start" fill="#111111" font-weight="normal" stroke="#111111" stroke-width="0.18">1600 nm</text>
<line x1="258.5" y1="188" x2="258.5" y2="317" stroke="#8a8a8a" stroke-width="1" stroke-linecap="butt"/>
<line x1="417.5" y1="188" x2="417.5" y2="317" stroke="#8a8a8a" stroke-width="1" stroke-linecap="butt"/>
<line x1="258" y1="188.5" x2="418" y2="188.5" stroke="#7a7a7a" stroke-width="1" stroke-linecap="butt"/>
<line x1="258" y1="316.5" x2="418" y2="316.5" stroke="#8a8a8a" stroke-width="1" stroke-linecap="butt"/>
<line x1="271.4" y1="316.5" x2="271.4" y2="314" stroke="#8a8a8a" stroke-width="1" stroke-linecap="butt"/>
<line x1="303.6" y1="316.5" x2="303.6" y2="314" stroke="#8a8a8a" stroke-width="1" stroke-linecap="butt"/>
<line x1="335.79" y1="316.5" x2="335.79" y2="314" stroke="#8a8a8a" stroke-width="1" stroke-linecap="butt"/>
<line x1="367.99" y1="316.5" x2="367.99" y2="314" stroke="#8a8a8a" stroke-width="1" stroke-linecap="butt"/>
<line x1="400.19" y1="316.5" x2="400.19" y2="314" stroke="#8a8a8a" stroke-width="1" stroke-linecap="butt"/>
<line x1="255.3" y1="316.5" x2="255.3" y2="315" stroke="#8a8a8a" stroke-width="1" stroke-linecap="butt"/>
<line x1="287.5" y1="316.5" x2="287.5" y2="315" stroke="#8a8a8a" stroke-width="1" stroke-linecap="butt"/>
<line x1="319.7" y1="316.5" x2="319.7" y2="315" stroke="#8a8a8a" stroke-width="1" stroke-linecap="butt"/>
<line x1="351.89" y1="316.5" x2="351.89" y2="315" stroke="#8a8a8a" stroke-width="1" stroke-linecap="butt"/>
<line x1="384.09" y1="316.5" x2="384.09" y2="315" stroke="#8a8a8a" stroke-width="1" stroke-linecap="butt"/>
<line x1="416.29" y1="316.5" x2="416.29" y2="315" stroke="#8a8a8a" stroke-width="1" stroke-linecap="butt"/>
<line x1="258.5" y1="316.2" x2="261" y2="316.2" stroke="#8a8a8a" stroke-width="1" stroke-linecap="butt"/>
<line x1="258.5" y1="293" x2="261" y2="293" stroke="#8a8a8a" stroke-width="1" stroke-linecap="butt"/>
<line x1="258.5" y1="269.8" x2="261" y2="269.8" stroke="#8a8a8a" stroke-width="1" stroke-linecap="butt"/>
<line x1="258.5" y1="246.6" x2="261" y2="246.6" stroke="#8a8a8a" stroke-width="1" stroke-linecap="butt"/>
<line x1="258.5" y1="223.4" x2="261" y2="223.4" stroke="#8a8a8a" stroke-width="1" stroke-linecap="butt"/>
<line x1="258.5" y1="200.2" x2="261" y2="200.2" stroke="#8a8a8a" stroke-width="1" stroke-linecap="butt"/>
<line x1="258.5" y1="304.6" x2="260" y2="304.6" stroke="#8a8a8a" stroke-width="1" stroke-linecap="butt"/>
<line x1="258.5" y1="281.4" x2="260" y2="281.4" stroke="#8a8a8a" stroke-width="1" stroke-linecap="butt"/>
<line x1="258.5" y1="258.2" x2="260" y2="258.2" stroke="#8a8a8a" stroke-width="1" stroke-linecap="butt"/>
<line x1="258.5" y1="235" x2="260" y2="235" stroke="#8a8a8a" stroke-width="1" stroke-linecap="butt"/>
<line x1="258.5" y1="211.8" x2="260" y2="211.8" stroke="#8a8a8a" stroke-width="1" stroke-linecap="butt"/>
<text x="271.4" y="328" font-size="10.7" text-anchor="middle" fill="#111111" font-weight="normal" stroke="#111111" stroke-width="0.18">3000</text>
<text x="303.6" y="328" font-size="10.7" text-anchor="middle" fill="#111111" font-weight="normal" stroke="#111111" stroke-width="0.18">3750</text>
<text x="335.79" y="328" font-size="10.7" text-anchor="middle" fill="#111111" font-weight="normal" stroke="#111111" stroke-width="0.18">4500</text>
<text x="367.99" y="328" font-size="10.7" text-anchor="middle" fill="#111111" font-weight="normal" stroke="#111111" stroke-width="0.18">5250</text>
<text x="400.19" y="328" font-size="10.7" text-anchor="middle" fill="#111111" font-weight="normal" stroke="#111111" stroke-width="0.18">6000</text>
<text x="255.3" y="319.8" font-size="10.7" text-anchor="end" fill="#111111" font-weight="normal" stroke="#111111" stroke-width="0.18">0.0</text>
<text x="255.3" y="296.6" font-size="10.7" text-anchor="end" fill="#111111" font-weight="normal" stroke="#111111" stroke-width="0.18">0.2</text>
<text x="255.3" y="273.4" font-size="10.7" text-anchor="end" fill="#111111" font-weight="normal" stroke="#111111" stroke-width="0.18">0.4</text>
<text x="255.3" y="250.2" font-size="10.7" text-anchor="end" fill="#111111" font-weight="normal" stroke="#111111" stroke-width="0.18">0.6</text>
<text x="255.3" y="227" font-size="10.7" text-anchor="end" fill="#111111" font-weight="normal" stroke="#111111" stroke-width="0.18">0.8</text>
<text x="255.3" y="203.8" font-size="10.7" text-anchor="end" fill="#111111" font-weight="normal" stroke="#111111" stroke-width="0.18">1.0</text>
<text x="338.5" y="343.5" font-size="10.8" text-anchor="middle" fill="#111111" font-weight="normal" stroke="#111111" stroke-width="0.18">Wavelength (nm)</text>
<text x="233.5" y="248" font-size="11.2" text-anchor="middle" fill="#111111" font-weight="normal" stroke="#111111" stroke-width="0.18" transform="rotate(-90 233.5 248)">Intensity (a.u.)</text>
<text x="227.5" y="181.7" font-size="16.5" text-anchor="start" fill="#000" font-weight="bold">e</text>
<polyline points="259,315.9 265.5,315.9 266,305 266,290.7 266.6,283.6 267.8,278.2 268.7,265.7 269.6,255 269.8,248 269.4,241.4 269.3,230.7 269.6,218.2 270.1,205.7 270.9,200 271.6,203.9 271.75,218.2 271.6,229.8 272.6,237.9 273.4,248.6 273.7,260 275,276.4 275.9,281.8 276.75,280.9 277.6,282.7 277.3,290.7 278.5,301.4 279.4,308.6 280.3,314.8 281,315.9" fill="none" stroke="#f9585e" stroke-width="1.55" stroke-linejoin="round"/>
<polyline points="291.5,315.9 292.4,315.7 293.7,280.3 294,260 294.6,247 295.3,225.3 295.8,205.4 296.7,199.3 297.3,203 297.6,207 298.4,211.2 299.2,212.3 298.9,215.5 299.8,215.8 299.3,219.5 300.3,219 300.1,223.6 300.5,235 301.1,250 302.1,276.3 304.2,300.5 305.8,315.5 307,315.9 314,315.9" fill="none" stroke="#8e8e8e" stroke-width="1.55" stroke-linejoin="round"/>
<polyline points="292.8,315.9 307.2,315.9 308.2,290.4 309.6,250 309.6,238.3 310.2,212.3 311,199.8 311.7,212.3 312.2,233.1 313,240 313.4,255 313.6,280 314.3,315.5 315,315.9 320.1,315.9" fill="none" stroke="#2c6fe0" stroke-width="1.55" stroke-linejoin="round"/>
<polyline points="320.1,315.9 325.4,315.9 325.7,315.5 326.5,262 327,253.9 327.4,225 327.9,198.1 328.4,219.2 329.1,253.9 330.1,290.4 331.1,315.5 331.6,315.9 336.8,315.9 341.2,315.9" fill="none" stroke="#3aa56c" stroke-width="1.55" stroke-linejoin="round"/>
<polyline points="328,315.9 336,315.9 336.6,315.5 338.2,262 338.8,253.9 339.4,225 340,198.1 340.2,221 340.7,253.9 341.2,315.5 341.6,315.9 361.6,315.9" fill="none" stroke="#a874e2" stroke-width="1.55" stroke-linejoin="round"/>
<line x1="344.9" y1="201.8" x2="369.5" y2="201.8" stroke="#f9585e" stroke-width="1.7" stroke-linecap="butt"/>
<text x="373.2" y="205.6" font-size="10.5" text-anchor="start" fill="#111111" font-weight="normal" stroke="#111111" stroke-width="0.18">1030 nm</text>
<line x1="344.9" y1="215.25" x2="369.5" y2="215.25" stroke="#8e8e8e" stroke-width="1.7" stroke-linecap="butt"/>
<text x="373.2" y="219.05" font-size="10.5" text-anchor="start" fill="#111111" font-weight="normal" stroke="#111111" stroke-width="0.18">1300 nm</text>
<line x1="344.9" y1="228.7" x2="369.5" y2="228.7" stroke="#2c6fe0" stroke-width="1.7" stroke-linecap="butt"/>
<text x="373.2" y="232.5" font-size="10.5" text-anchor="start" fill="#111111" font-weight="normal" stroke="#111111" stroke-width="0.18">1400 nm</text>
<line x1="344.9" y1="242.15" x2="369.5" y2="242.15" stroke="#3aa56c" stroke-width="1.7" stroke-linecap="butt"/>
<text x="373.2" y="245.95" font-size="10.5" text-anchor="start" fill="#111111" font-weight="normal" stroke="#111111" stroke-width="0.18">1500 nm</text>
<line x1="344.9" y1="255.6" x2="369.5" y2="255.6" stroke="#a874e2" stroke-width="1.7" stroke-linecap="butt"/>
<text x="373.2" y="259.4" font-size="10.5" text-anchor="start" fill="#111111" font-weight="normal" stroke="#111111" stroke-width="0.18">1600 nm</text>
<line x1="497.5" y1="188" x2="497.5" y2="317" stroke="#a0a0a0" stroke-width="1" stroke-linecap="butt"/>
<line x1="656.5" y1="188" x2="656.5" y2="317" stroke="#8a8a8a" stroke-width="1" stroke-linecap="butt"/>
<line x1="497" y1="188.5" x2="657" y2="188.5" stroke="#7a7a7a" stroke-width="1" stroke-linecap="butt"/>
<line x1="497" y1="316.5" x2="657" y2="316.5" stroke="#7a7a7a" stroke-width="1" stroke-linecap="butt"/>
<line x1="522.1" y1="316.5" x2="522.1" y2="314" stroke="#8a8a8a" stroke-width="1" stroke-linecap="butt"/>
<line x1="562.2" y1="316.5" x2="562.2" y2="314" stroke="#8a8a8a" stroke-width="1" stroke-linecap="butt"/>
<line x1="602.3" y1="316.5" x2="602.3" y2="314" stroke="#8a8a8a" stroke-width="1" stroke-linecap="butt"/>
<line x1="642.4" y1="316.5" x2="642.4" y2="314" stroke="#8a8a8a" stroke-width="1" stroke-linecap="butt"/>
<line x1="502.05" y1="316.5" x2="502.05" y2="315" stroke="#8a8a8a" stroke-width="1" stroke-linecap="butt"/>
<line x1="542.15" y1="316.5" x2="542.15" y2="315" stroke="#8a8a8a" stroke-width="1" stroke-linecap="butt"/>
<line x1="582.25" y1="316.5" x2="582.25" y2="315" stroke="#8a8a8a" stroke-width="1" stroke-linecap="butt"/>
<line x1="622.35" y1="316.5" x2="622.35" y2="315" stroke="#8a8a8a" stroke-width="1" stroke-linecap="butt"/>
<line x1="497.5" y1="316" x2="500" y2="316" stroke="#8a8a8a" stroke-width="1" stroke-linecap="butt"/>
<line x1="497.5" y1="293.2" x2="500" y2="293.2" stroke="#8a8a8a" stroke-width="1" stroke-linecap="butt"/>
<line x1="497.5" y1="270.4" x2="500" y2="270.4" stroke="#8a8a8a" stroke-width="1" stroke-linecap="butt"/>
<line x1="497.5" y1="247.6" x2="500" y2="247.6" stroke="#8a8a8a" stroke-width="1" stroke-linecap="butt"/>
<line x1="497.5" y1="224.8" x2="500" y2="224.8" stroke="#8a8a8a" stroke-width="1" stroke-linecap="butt"/>
<line x1="497.5" y1="202" x2="500" y2="202" stroke="#8a8a8a" stroke-width="1" stroke-linecap="butt"/>
<line x1="497.5" y1="304.6" x2="499" y2="304.6" stroke="#8a8a8a" stroke-width="1" stroke-linecap="butt"/>
<line x1="497.5" y1="281.8" x2="499" y2="281.8" stroke="#8a8a8a" stroke-width="1" stroke-linecap="butt"/>
<line x1="497.5" y1="259" x2="499" y2="259" stroke="#8a8a8a" stroke-width="1" stroke-linecap="butt"/>
<line x1="497.5" y1="236.2" x2="499" y2="236.2" stroke="#8a8a8a" stroke-width="1" stroke-linecap="butt"/>
<line x1="497.5" y1="213.4" x2="499" y2="213.4" stroke="#8a8a8a" stroke-width="1" stroke-linecap="butt"/>
<line x1="497.5" y1="190.6" x2="499" y2="190.6" stroke="#8a8a8a" stroke-width="1" stroke-linecap="butt"/>
<text x="522.1" y="328" font-size="10.7" text-anchor="middle" fill="#111111" font-weight="normal" stroke="#111111" stroke-width="0.18">2000</text>
<text x="562.2" y="328" font-size="10.7" text-anchor="middle" fill="#111111" font-weight="normal" stroke="#111111" stroke-width="0.18">2008</text>
<text x="602.3" y="328" font-size="10.7" text-anchor="middle" fill="#111111" font-weight="normal" stroke="#111111" stroke-width="0.18">2016</text>
<text x="642.4" y="328" font-size="10.7" text-anchor="middle" fill="#111111" font-weight="normal" stroke="#111111" stroke-width="0.18">2024</text>
<text x="494.5" y="319.6" font-size="10.7" text-anchor="end" fill="#111111" font-weight="normal" stroke="#111111" stroke-width="0.18">2.0</text>
<text x="494.5" y="296.8" font-size="10.7" text-anchor="end" fill="#111111" font-weight="normal" stroke="#111111" stroke-width="0.18">2.5</text>
<text x="494.5" y="274" font-size="10.7" text-anchor="end" fill="#111111" font-weight="normal" stroke="#111111" stroke-width="0.18">3.0</text>
<text x="494.5" y="251.2" font-size="10.7" text-anchor="end" fill="#111111" font-weight="normal" stroke="#111111" stroke-width="0.18">3.5</text>
<text x="494.5" y="228.4" font-size="10.7" text-anchor="end" fill="#111111" font-weight="normal" stroke="#111111" stroke-width="0.18">4.0</text>
<text x="494.5" y="205.6" font-size="10.7" text-anchor="end" fill="#111111" font-weight="normal" stroke="#111111" stroke-width="0.18">4.5</text>
<text x="577.5" y="343.5" font-size="10.8" text-anchor="middle" fill="#111111" font-weight="normal" stroke="#111111" stroke-width="0.18">Time (year)</text>
<text x="474.7" y="252.1" font-size="10.8" text-anchor="middle" fill="#111111" font-weight="normal" stroke="#111111" stroke-width="0.18" transform="rotate(-90 474.7 252.1)">Max central wavelength (μm)</text>
<text x="466.9" y="181.1" font-size="16.5" text-anchor="start" fill="#000" font-weight="bold">f</text>
<circle cx="512.8" cy="225.1" r="2.65" fill="#5f9ad6"/>
<circle cx="517.7" cy="225.1" r="2.65" fill="#5f9ad6"/>
<circle cx="542.5" cy="254.4" r="2.65" fill="#5f9ad6"/>
<circle cx="577.2" cy="234.8" r="2.65" fill="#5f9ad6"/>
<circle cx="586.9" cy="225.1" r="2.65" fill="#5f9ad6"/>
<circle cx="606.9" cy="225.1" r="2.65" fill="#5f9ad6"/>
<circle cx="639" cy="225.1" r="2.65" fill="#5f9ad6"/>
<circle cx="641.6" cy="243.2" r="2.65" fill="#5f9ad6"/>
<circle cx="626.7" cy="262.1" r="2.65" fill="#5f9ad6"/>
<circle cx="621.9" cy="267.3" r="2.65" fill="#5f9ad6"/>
<circle cx="637.3" cy="256.8" r="2.65" fill="#5f9ad6"/>
<circle cx="636.2" cy="270.5" r="2.65" fill="#5f9ad6"/>
<circle cx="642.3" cy="286.1" r="2.65" fill="#5f9ad6"/>
<circle cx="632.4" cy="310.6" r="2.65" fill="#5f9ad6"/>
<circle cx="611.8" cy="247.9" r="2.65" fill="#d09a12"/>
<polygon points="646.3,192.4 647.58,195.83 651.25,195.99 648.38,198.27 649.36,201.81 646.3,199.78 643.24,201.81 644.22,198.27 641.35,195.99 645.02,195.83" fill="#f45c62"/>
<text x="508.9" y="220.3" font-size="7.5" text-anchor="middle" fill="#262626" font-weight="normal" stroke="#262626" stroke-width="0.18">[29]</text>
<text x="523.9" y="234.4" font-size="7.5" text-anchor="middle" fill="#262626" font-weight="normal" stroke="#262626" stroke-width="0.18">[30]</text>
<text x="542.5" y="264.7" font-size="7.5" text-anchor="middle" fill="#262626" font-weight="normal" stroke="#262626" stroke-width="0.18">[31]</text>
<text x="576.5" y="244.8" font-size="7.5" text-anchor="middle" fill="#262626" font-weight="normal" stroke="#262626" stroke-width="0.18">[32]</text>
<text x="585.6" y="219.6" font-size="7.5" text-anchor="middle" fill="#262626" font-weight="normal" stroke="#262626" stroke-width="0.18">[33]</text>
<text x="605.1" y="220.4" font-size="7.5" text-anchor="middle" fill="#262626" font-weight="normal" stroke="#262626" stroke-width="0.18">[34]</text>
<text x="600.7" y="250.3" font-size="7.5" text-anchor="middle" fill="#262626" font-weight="normal" stroke="#262626" stroke-width="0.18">[35]</text>
<text x="637.9" y="220.1" font-size="7.5" text-anchor="middle" fill="#262626" font-weight="normal" stroke="#262626" stroke-width="0.18">[41]</text>
<text x="647" y="237.3" font-size="7.5" text-anchor="middle" fill="#262626" font-weight="normal" stroke="#262626" stroke-width="0.18">[42]</text>
<text x="624.6" y="256.8" font-size="7.5" text-anchor="middle" fill="#262626" font-weight="normal" stroke="#262626" stroke-width="0.18">[37]</text>
<text x="613.5" y="274.7" font-size="7.5" text-anchor="middle" fill="#262626" font-weight="normal" stroke="#262626" stroke-width="0.18">[36]</text>
<text x="646.7" y="258.2" font-size="7.5" text-anchor="middle" fill="#262626" font-weight="normal" stroke="#262626" stroke-width="0.18">[40]</text>
<text x="646" y="273.5" font-size="7.5" text-anchor="middle" fill="#262626" font-weight="normal" stroke="#262626" stroke-width="0.18">[39]</text>
<text x="641.5" y="294.6" font-size="7.5" text-anchor="middle" fill="#262626" font-weight="normal" stroke="#262626" stroke-width="0.18">[43]</text>
<text x="642.8" y="311.8" font-size="7.5" text-anchor="middle" fill="#262626" font-weight="normal" stroke="#262626" stroke-width="0.18">[38]</text>
<circle cx="505.6" cy="280.5" r="2.65" fill="#5f9ad6"/>
<text x="521.4" y="284.2" font-size="10.8" text-anchor="start" fill="#111111" font-weight="normal" stroke="#111111" stroke-width="0.18">PPLN</text>
<circle cx="505.6" cy="293.8" r="2.65" fill="#d09a12"/>
<text x="521.4" y="297.6" font-size="10.8" text-anchor="start" fill="#111111" font-weight="normal" stroke="#111111" stroke-width="0.18">LN Metasurface</text>
<polygon points="505.9,301.8 507.21,305.3 510.94,305.46 508.02,307.79 509.02,311.39 505.9,309.33 502.78,311.39 503.78,307.79 500.86,305.46 504.59,305.3" fill="#f45c62"/>
<text x="518.4" y="311" font-size="10.8" text-anchor="start" fill="#111111" font-weight="normal" stroke="#111111" stroke-width="0.18">This work</text>
</svg></body></html>
